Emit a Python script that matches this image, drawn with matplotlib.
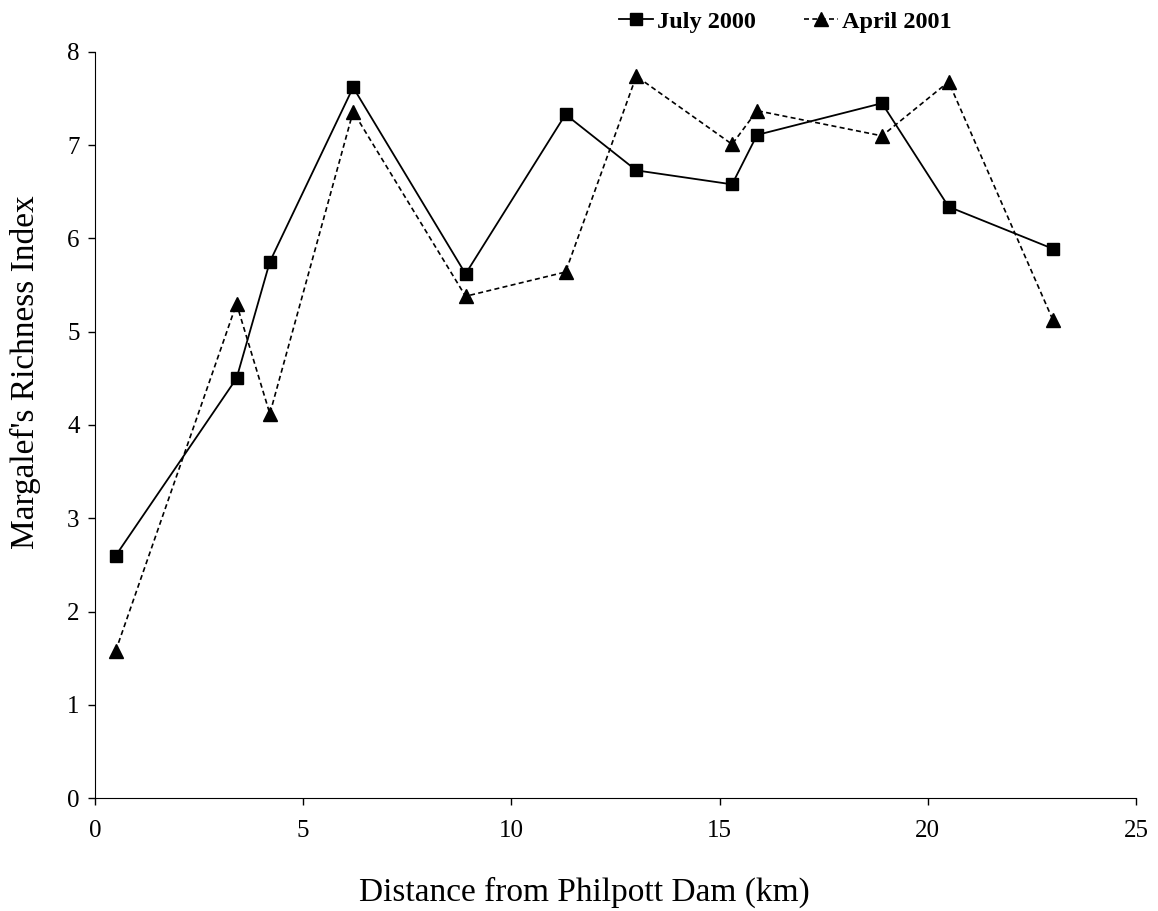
import matplotlib
matplotlib.use('Agg')
from matplotlib import pyplot as plt

# 距離 (km) と Margalef 指数
distance = [0.5, 3.4, 4.2, 6.2, 8.9, 11.3, 13.0, 15.3, 15.9, 18.9, 20.5, 23.0]
july_2000 = [2.60, 4.50, 5.75, 7.62, 5.62, 7.33, 6.73, 6.58, 7.11, 7.45, 6.34, 5.89]
april_2001 = [1.58, 5.30, 4.12, 7.36, 5.38, 5.64, 7.74, 7.01, 7.37, 7.10, 7.68, 5.13]
x_ticks = [0, 5, 10, 15, 20, 25]
y_ticks = [0, 1, 2, 3, 4, 5, 6, 7, 8]

plt.rcParams['font.family'] = ['Liberation Serif', 'DejaVu Serif']
plt.rcParams['font.size'] = 16
plt.rcParams['xtick.direction'] = 'out'
plt.rcParams['ytick.direction'] = 'out'

fig = plt.figure(figsize=(11.58, 9.11), dpi=100)
ax1 = fig.add_axes([0.082, 0.124, 0.899, 0.819])

ax1.plot(distance, july_2000, color='black', linestyle='-', linewidth=1.3,
         marker='s', markersize=9, label='July 2000')
ax1.plot(distance, april_2001, color='black', linestyle=(0, (3, 2)), linewidth=1.2,
         marker='^', markersize=10, label='April 2001')

ax1.set_xlim(0, 25)
ax1.set_ylim(0, 8)
ax1.set_xticks(x_ticks)
ax1.set_yticks(y_ticks)
ax1.spines['top'].set_visible(False)
ax1.spines['right'].set_visible(False)
ax1.tick_params(length=5, width=1, labelsize=18)
ax1.tick_params(axis='x', pad=11)
ax1.tick_params(axis='y', pad=6)

ax1.set_xlabel('Distance from Philpott Dam (km)', fontsize=24)
ax1.set_ylabel("Margalef's Richness Index", fontsize=24)
ax1.xaxis.set_label_coords(0.47, -0.105)
ax1.yaxis.set_label_coords(-0.052, 0.571)

fig.legend(loc='center', bbox_to_anchor=(0.678, 0.976), ncol=2, frameon=False,
           handlelength=1.4, handletextpad=0.15, columnspacing=2.0,
           prop={'weight': 'bold', 'size': 17.5})

fig.savefig('out.png', dpi=100)
plt.close()
